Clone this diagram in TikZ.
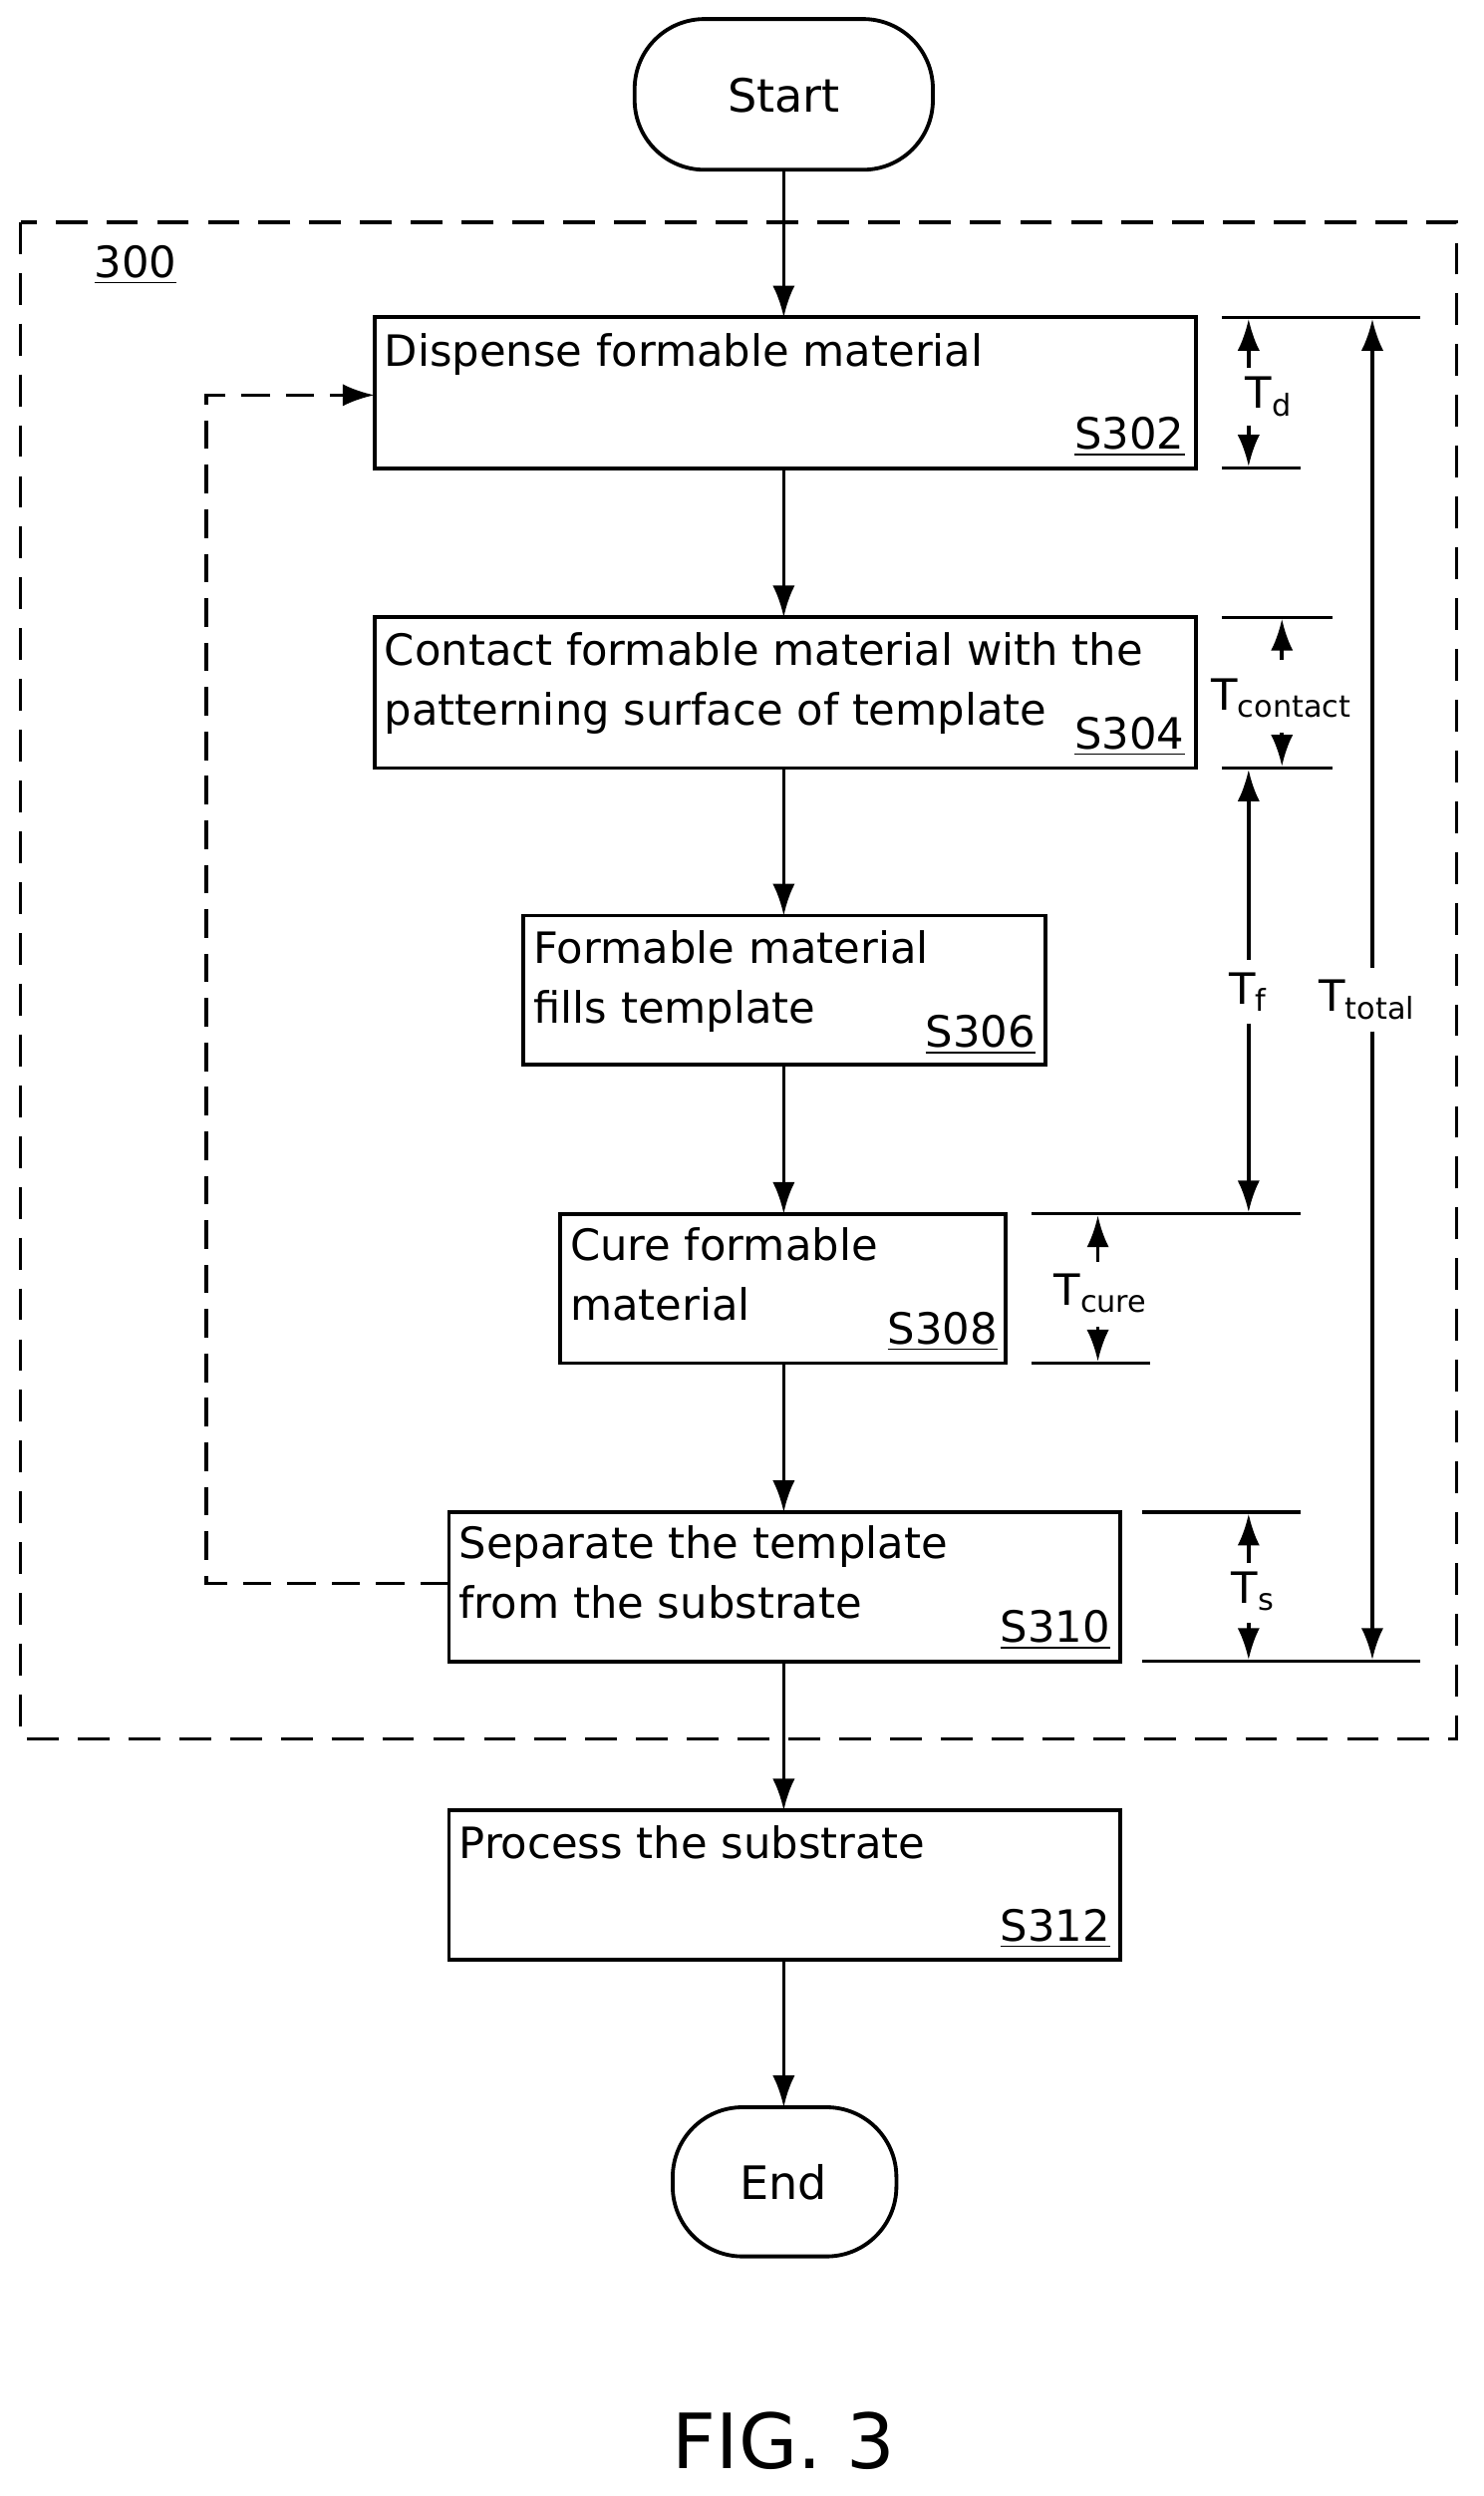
\documentclass[tikz,border=0pt]{standalone}
\usepackage{fontspec}
\setmainfont{DejaVu Sans}
\usetikzlibrary{arrows.meta}
\begin{document}
\begin{tikzpicture}[x=0.5pt,y=-0.5pt,
  box/.style={draw,line width=1.2pt},
  txt/.style={anchor=north west,align=left,inner sep=0pt,font=\fontsize{13.6}{19}\selectfont},
  lab/.style={anchor=south east,inner sep=0pt,font=\fontsize{13.6}{19}\selectfont},
  arr/.style={-{Latex[length=10pt,width=7pt]},line width=1.1pt},
  dim/.style={line width=1pt},
  dl/.style={font=\fontsize{13.6}{16}\selectfont,inner sep=1pt}]
\useasboundingbox (0,0) rectangle (935,1573);
\draw[box,rounded corners=22pt] (400,12) rectangle (588,107);
\node[font=\fontsize{14.5}{16}\selectfont] (start) at (494,60) {Start};
\draw[dash pattern=on 10pt off 6pt,line width=1.1pt] (13,140) rectangle (918,1096);
\node[dl,anchor=west] (n300) at (57,167) {\underline{300}};
% boxes
\draw[box] (236,200) rectangle (754,295); \coordinate (b1t) at (494,200); \coordinate (b1b) at (494,295);
\node[txt] at (242,210) {Dispense formable material};
\node[lab] at (747,288) {\underline{S302}};
\draw[box] (236,389) rectangle (754,484); \coordinate (b2t) at (494,389); \coordinate (b2b) at (494,484);
\node[txt] at (242,398) {Contact formable material with the\\patterning surface of template};
\node[lab] at (747,477) {\underline{S304}};
\draw[box] (330,577) rectangle (659,671); \coordinate (b3t) at (494,577); \coordinate (b3b) at (494,671);
\node[txt] at (336,586) {Formable material\\fills template};
\node[lab] at (653,665) {\underline{S306}};
\draw[box] (353,765) rectangle (634,859); \coordinate (b4t) at (494,765); \coordinate (b4b) at (494,859);
\node[txt] at (359,773) {Cure formable\\material};
\node[lab] at (629,852) {\underline{S308}};
\draw[box] (283,953) rectangle (706,1047); \coordinate (b5t) at (494,953); \coordinate (b5b) at (494,1047);
\coordinate (b5l) at (283,998); \coordinate (b1l) at (236,249);
\node[txt] at (289,961) {Separate the template\\from the substrate};
\node[lab] at (700,1040) {\underline{S310}};
\draw[box] (283,1141) rectangle (706,1235); \coordinate (b6t) at (494,1141); \coordinate (b6b) at (494,1235);
\node[txt] at (289,1150) {Process the substrate};
\node[lab] at (700,1228) {\underline{S312}};
\draw[box,rounded corners=22pt] (424,1328) rectangle (565,1422); \coordinate (endt) at (494,1328);
\node[font=\fontsize{14.5}{16}\selectfont] (end) at (494,1375) {End};
\node[font=\fontsize{24}{28}\selectfont] (fig) at (494,1538) {FIG. 3};
% flow arrows
\draw[arr] (494,107) -- (b1t);
\draw[arr] (b1b) -- (b2t);
\draw[arr] (b2b) -- (b3t);
\draw[arr] (b3b) -- (b4t);
\draw[arr] (b4b) -- (b5t);
\draw[arr] (b5b) -- (b6t);
\draw[arr] (b6b) -- (endt);
\draw[arr,dash pattern=on 9pt off 5pt] (b5l) -- (130,998) -- (130,249) -- (b1l);
% dimension lines
\draw[dim] (770,200) -- (895,200);
\draw[dim] (770,295) -- (820,295);
\draw[dim] (770,389) -- (840,389);
\draw[dim] (770,484) -- (840,484);
\draw[dim] (650,765) -- (820,765);
\draw[dim] (650,859) -- (725,859);
\draw[dim] (720,953) -- (820,953);
\draw[dim] (720,1047) -- (895,1047);
\node[dl] (td) at (800,250) {T\textsubscript{d}};
\draw[arr] (787,232) -- (787,201);
\draw[arr] (787,268) -- (787,294);
\node[dl] (tc) at (808,440) {T\textsubscript{contact}};
\draw[arr] (808,416) -- (808,390);
\draw[arr] (808,462) -- (808,483);
\node[dl] (tf) at (787,625) {T\textsubscript{f}};
\draw[arr] (787,605) -- (787,485);
\draw[arr] (787,645) -- (787,764);
\node[dl] (tcu) at (694,815) {T\textsubscript{cure}};
\draw[arr] (692,795) -- (692,766);
\draw[arr] (692,836) -- (692,858);
\node[dl] (ts) at (790,1003) {T\textsubscript{s}};
\draw[arr] (787,985) -- (787,954);
\draw[arr] (787,1023) -- (787,1046);
\node[dl] (tt) at (862,630) {T\textsubscript{total}};
\draw[arr] (865,610) -- (865,201);
\draw[arr] (865,650) -- (865,1046);
\end{tikzpicture}
\end{document}
